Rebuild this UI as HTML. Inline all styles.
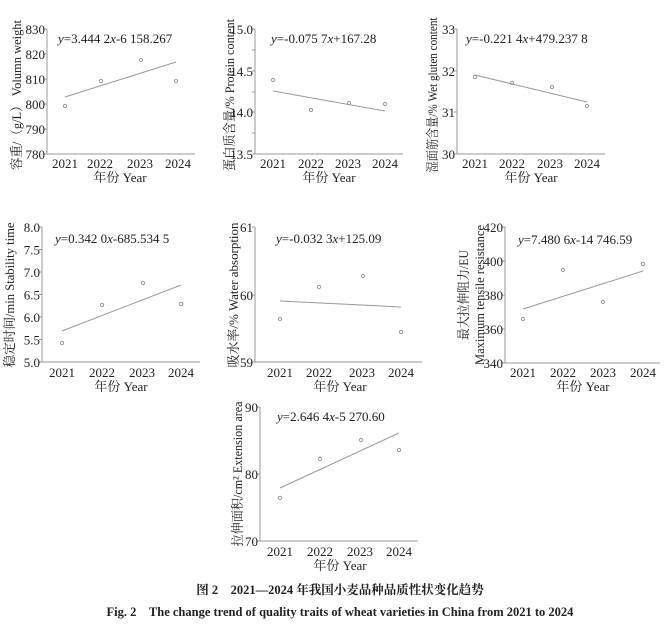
<!DOCTYPE html><html><head><meta charset="utf-8"><style>body{margin:0;background:#fff}svg{display:block}text{font-family:"Liberation Serif","Noto Serif CJK SC",serif;fill:#222}</style></head><body>
<svg width="670" height="634" viewBox="0 0 670 634" xmlns="http://www.w3.org/2000/svg" font-size="13">
<g stroke="#999" stroke-width="1" fill="none">
<path d="M47,29V154H195"/><path d="M44,29h3M44,54h3M44,79h3M44,104h3M44,129h3M44,154h3"/>
<line x1="65" y1="97" x2="176" y2="62"/>
<circle cx="65" cy="106" r="1.6"/><circle cx="101" cy="81" r="1.6"/><circle cx="141" cy="60" r="1.6"/><circle cx="176" cy="81" r="1.6"/>
<path d="M255,29V154H403"/><path d="M252,29h3M255,50h-3M252,71h3M255,92h-3M252,112h3M255,133h-3M252,154h3"/>
<line x1="273" y1="91" x2="385" y2="111"/>
<circle cx="273" cy="80" r="1.6"/><circle cx="311" cy="110" r="1.6"/><circle cx="349" cy="103" r="1.6"/><circle cx="385" cy="104" r="1.6"/>
<path d="M457,29V154H605"/><path d="M454,29h3M454,71h3M454,112h3M454,154h3"/>
<line x1="475" y1="75" x2="587" y2="102"/>
<circle cx="475" cy="77" r="1.6"/><circle cx="512" cy="83" r="1.6"/><circle cx="552" cy="87" r="1.6"/><circle cx="587" cy="106" r="1.6"/>
<path d="M42,227V362H200"/><path d="M39,227h3M39,249.5h3M39,272h3M39,294.5h3M39,317h3M39,339.5h3M39,362h3"/>
<line x1="62" y1="331" x2="181" y2="285"/>
<circle cx="62" cy="343" r="1.6"/><circle cx="102" cy="305" r="1.6"/><circle cx="143" cy="283" r="1.6"/><circle cx="181" cy="304" r="1.6"/>
<path d="M255,227V362H422"/><path d="M252,227h3M252,295h3M252,362h3"/>
<line x1="280" y1="301" x2="401" y2="307"/>
<circle cx="280" cy="319" r="1.6"/><circle cx="319" cy="287" r="1.6"/><circle cx="363" cy="276" r="1.6"/><circle cx="401" cy="332" r="1.6"/>
<path d="M505,227V363H660"/><path d="M502,227h3M502,261h3M502,295h3M502,329h3M502,363h3"/>
<line x1="523" y1="309" x2="643" y2="271"/>
<circle cx="523" cy="319" r="1.6"/><circle cx="563" cy="270" r="1.6"/><circle cx="603" cy="302" r="1.6"/><circle cx="643" cy="264" r="1.6"/>
<path d="M260,407V541H418"/><path d="M257,407h3M257,474h3M257,541h3"/>
<line x1="280" y1="488" x2="399" y2="433"/>
<circle cx="280" cy="498" r="1.6"/><circle cx="320" cy="459" r="1.6"/><circle cx="361" cy="440" r="1.6"/><circle cx="399" cy="450" r="1.6"/>
</g>
<g text-anchor="end">
<text x="45" y="34">830</text><text x="45" y="59">820</text><text x="45" y="84">810</text><text x="45" y="109">800</text><text x="45" y="134">790</text><text x="45" y="159">780</text>
<text x="253" y="34">15.0</text><text x="253" y="76">14.5</text><text x="253" y="117">14.0</text><text x="253" y="159">13.5</text>
<text x="455" y="34">33</text><text x="455" y="76">32</text><text x="455" y="117">31</text><text x="455" y="159">30</text>
<text x="40" y="232">8.0</text><text x="40" y="254.5">7.5</text><text x="40" y="277">7.0</text><text x="40" y="299.5">6.5</text><text x="40" y="322">6.0</text><text x="40" y="344.5">5.5</text><text x="40" y="367">5.0</text>
<text x="253" y="232">61</text><text x="253" y="300">60</text><text x="253" y="367">59</text>
<text x="503" y="232">420</text><text x="503" y="266">400</text><text x="503" y="300">380</text><text x="503" y="334">360</text><text x="503" y="368">340</text>
<text x="258" y="412">90</text><text x="258" y="479">80</text><text x="258" y="546">70</text>
</g>
<g text-anchor="middle">
<text x="65" y="168">2021</text><text x="100" y="168">2022</text><text x="140" y="168">2023</text><text x="178" y="168">2024</text><text x="120" y="182">年份 Year</text>
<text x="273" y="168">2021</text><text x="311" y="168">2022</text><text x="348" y="168">2023</text><text x="385" y="168">2024</text><text x="329" y="182">年份 Year</text>
<text x="475" y="168">2021</text><text x="512" y="168">2022</text><text x="550" y="168">2023</text><text x="587" y="168">2024</text><text x="531" y="182">年份 Year</text>
<text x="62" y="377">2021</text><text x="102" y="377">2022</text><text x="142" y="377">2023</text><text x="181" y="377">2024</text><text x="121" y="391">年份 Year</text>
<text x="280" y="377">2021</text><text x="319" y="377">2022</text><text x="362" y="377">2023</text><text x="401" y="377">2024</text><text x="340" y="391">年份 Year</text>
<text x="523" y="377">2021</text><text x="563" y="377">2022</text><text x="603" y="377">2023</text><text x="643" y="377">2024</text><text x="583" y="391">年份 Year</text>
<text x="280" y="556">2021</text><text x="320" y="556">2022</text><text x="360" y="556">2023</text><text x="399" y="556">2024</text><text x="340" y="570">年份 Year</text>
<text transform="translate(21,95) rotate(-90)" textLength="150" lengthAdjust="spacingAndGlyphs">容重/（g/L） Volumn weight</text>
<text transform="translate(234,95) rotate(-90)" textLength="152" lengthAdjust="spacingAndGlyphs">蛋白质含量/% Protein content</text>
<text transform="translate(437,95) rotate(-90)" textLength="155" lengthAdjust="spacingAndGlyphs">湿面筋含量/% Wet gluten content</text>
<text transform="translate(14,295) rotate(-90)" textLength="145" lengthAdjust="spacingAndGlyphs">稳定时间/min Stability time</text>
<text transform="translate(238,295) rotate(-90)" textLength="145" lengthAdjust="spacingAndGlyphs">吸水率/% Water absorption</text>
<text transform="translate(468,295) rotate(-90)" textLength="90" lengthAdjust="spacingAndGlyphs">最大拉伸阻力/EU</text>
<text transform="translate(484,295) rotate(-90)" textLength="140" lengthAdjust="spacingAndGlyphs">Maximum tensile resistance</text>
<text transform="translate(242,474) rotate(-90)" textLength="145" lengthAdjust="spacingAndGlyphs">拉伸面积/cm² Extension area</text>
<text x="340" y="594" font-weight="bold" font-size="12.5">图 2　2021—2024 年我国小麦品种品质性状变化趋势</text>
<text x="340" y="616" font-weight="bold" font-size="12.5">Fig. 2　The change trend of quality traits of wheat varieties in China from 2021 to 2024</text>
</g>
<text x="58" y="43"><tspan font-style="italic">y</tspan>=3.444 2<tspan font-style="italic">x</tspan>-6 158.267</text>
<text x="271" y="43"><tspan font-style="italic">y</tspan>=-0.075 7<tspan font-style="italic">x</tspan>+167.28</text>
<text x="466" y="43"><tspan font-style="italic">y</tspan>=-0.221 4<tspan font-style="italic">x</tspan>+479.237 8</text>
<text x="55" y="243"><tspan font-style="italic">y</tspan>=0.342 0<tspan font-style="italic">x</tspan>-685.534 5</text>
<text x="276" y="243"><tspan font-style="italic">y</tspan>=-0.032 3<tspan font-style="italic">x</tspan>+125.09</text>
<text x="518" y="244"><tspan font-style="italic">y</tspan>=7.480 6<tspan font-style="italic">x</tspan>-14 746.59</text>
<text x="277" y="421"><tspan font-style="italic">y</tspan>=2.646 4<tspan font-style="italic">x</tspan>-5 270.60</text>
</svg></body></html>
